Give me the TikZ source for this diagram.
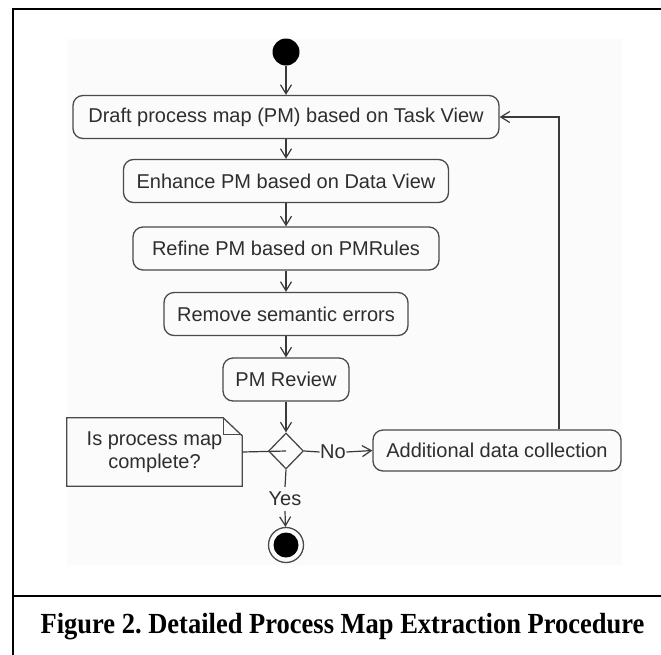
\documentclass[tikz,border=0pt]{standalone}
\usepackage{fontspec}
\setmainfont{Liberation Serif}
\newfontfamily\diagfont{Liberation Sans}
\usetikzlibrary{arrows.meta,shapes.geometric,calc}
\definecolor{linegray}{HTML}{3A3A3A}
\definecolor{boxgray}{HTML}{4A4A4A}
\definecolor{textgray}{HTML}{2E2E2E}
\definecolor{panel}{HTML}{FBFBFB}
\frenchspacing
\begin{document}
\begin{tikzpicture}[x=1pt,y=-1pt,
  activity/.style={draw=boxgray, line width=1.3pt, rounded corners=10pt,
    minimum height=43pt, inner sep=0pt, text=textgray,
    font=\diagfont\fontsize{20}{23}\selectfont},
  flow/.style={draw=linegray, line width=1.2pt,
    -{Straight Barb[length=9pt,width=11pt]}},
  plain/.style={draw=linegray, line width=1.2pt},
  lbl/.style={font=\diagfont\fontsize{20}{23}\selectfont, text=textgray, inner sep=0pt},
  dot/.style={circle, fill=black, minimum size=25pt, inner sep=0pt}]
\useasboundingbox (0,0) rectangle (661,654);
\clip (0,0) rectangle (661,654);

% diagram panel and figure frame
\fill[panel] (67,39) rectangle (622,565);
\draw[line width=2.5pt] (13,670) -- (13,9) -- (680,9);
\draw[line width=2.5pt] (13,596) -- (680,596);
\node[font=\bfseries\fontsize{26.5}{30}\selectfont, inner sep=0pt,
  yscale=1.1, transform shape] (caption) at (342.5,627)
  {Figure 2. Detailed Process Map Extraction Procedure};

% activities
\node[dot, minimum height=27pt] (start) at (286,52) {};
\node[activity, minimum width=426pt] (draft) at (286,117) {Draft process map (PM) based on Task View};
\node[activity, minimum width=325pt] (enhance) at (286,181) {Enhance PM based on Data View};
\node[activity, minimum width=306pt] (refine) at (286,248.5) {Refine PM based on PMRules};
\node[activity, minimum width=244pt] (remove) at (286,314) {Remove semantic errors};
\node[activity, minimum width=126pt] (review) at (286,379.5) {PM Review};
\node[diamond, draw=boxgray, line width=1.3pt, minimum width=35pt, minimum height=36pt,
  inner sep=0pt] (dec) at (286,451) {};
\node[activity, minimum width=248pt, minimum height=41pt] (collect) at (497,450.5) {Additional data collection};
\node[lbl, inner ysep=5pt] (yes) at (285,499) {Yes};
\node[lbl, inner xsep=0.5pt] (no) at (333,452) {No};
\node[circle, draw=boxgray, line width=1.3pt, minimum size=35pt, inner sep=0pt] (end) at (286,545) {};
\node[dot] (endcore) at (end.center) {};

% note with folded corner
\node[lbl, minimum width=175pt, minimum height=68pt, align=center] (note) at (154.5,452)
  {Is process map\\complete?};
\draw[boxgray, line width=1.3pt] (note.south west) |- ([xshift=-19pt]note.north east)
  -- ([yshift=-18pt]note.north east) -- (note.south east) -- cycle;
\draw[boxgray, line width=1.3pt] ([xshift=-19pt]note.north east) |- ([yshift=-17pt]note.north east);

% control flow
\draw[flow] (start) -- (draft);
\draw[flow] (draft) -- (enhance);
\draw[flow] (enhance) -- (refine);
\draw[flow] (refine) -- (remove);
\draw[flow] (remove) -- (review);
\draw[flow] (review) -- (dec);
\draw[plain] (note.east) -- (dec.center);
\draw[plain] (dec.east) -- (no.west);
\draw[flow] (no.east) -- (collect.west);
\draw[plain] (dec.south) -- (yes.north);
\draw[flow] (yes.south) -- (end);
\draw[flow] ([xshift=62pt]collect.north) |- (draft.east);
\end{tikzpicture}
\end{document}
